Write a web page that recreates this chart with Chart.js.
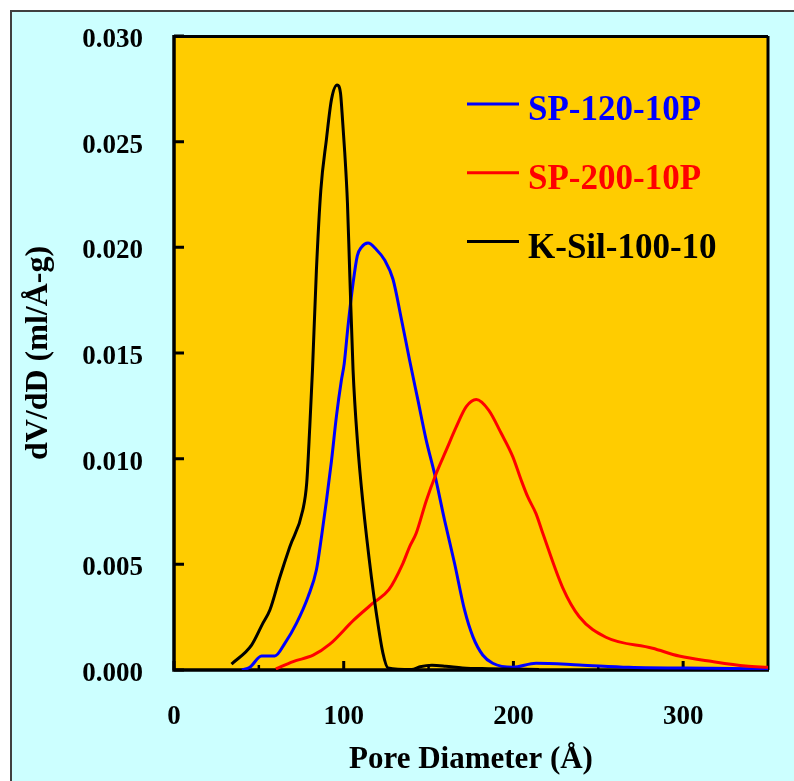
<!DOCTYPE html>
<html>
<head>
<meta charset="utf-8">
<script src="https://cdn.jsdelivr.net/npm/chart.js@4/dist/chart.umd.min.js"></script>
<style>
  html, body { margin: 0; padding: 0; background: #ffffff; }
  #wrap { width: 794px; height: 781px; position: relative; }
</style>
</head>
<body>
<div id="wrap"><canvas id="psd" width="794" height="781"></canvas></div>
<script>
// Pore size distributions, dV/dD (ml/Å-g) against pore diameter (Å)
const seriesNames = ['SP-120-10P', 'SP-200-10P', 'K-Sil-100-10'];
const seriesColors = ['#0000ff', '#ff0000', '#000000'];

const sp120Diameter = [40, 44.7, 51.6, 59.4, 65.3, 72.2, 79, 83.9, 86.9, 89.8, 92.8, 95.7, 98.6, 100.3,
  102.5, 105.5, 108, 110.4, 114.3, 119.2, 124.1, 129, 134, 138.8, 143.7, 148.6, 153.5, 159.4,
  165.3, 171.2, 176.1, 181.9, 187.8, 199.6, 213.3, 238.8, 268, 317, 350];
const sp120Values = [0, 0.00013, 0.00066, 0.00066, 0.00126, 0.00222, 0.00347, 0.00473, 0.0063, 0.0080,
  0.0099, 0.0120, 0.0137, 0.0145, 0.01625, 0.0183, 0.0196, 0.0200, 0.0202, 0.0199, 0.0194, 0.0185,
  0.0166, 0.01467, 0.01278, 0.01088, 0.0093, 0.0071, 0.00505, 0.00284, 0.00158, 0.00071, 0.00032,
  0.00013, 0.00032, 0.00024, 0.00013, 0.00008, 0.00005];

const sp200Diameter = [60, 70.2, 82, 91.8, 106, 117.2, 126.6, 134.9, 138.8, 142.7, 148.6, 154.5, 160.4,
  166.3, 172.2, 178.1, 185.4, 192.8, 199.6, 204.5, 208.4, 213.3, 217.3, 229, 238.8, 254.5, 282,
  297.6, 317.2, 336.9, 350];
const sp200Values = [0.00005, 0.0004, 0.0007, 0.00122, 0.00237, 0.00316, 0.0038, 0.00505, 0.00583,
  0.00647, 0.0080, 0.0093, 0.0104, 0.0115, 0.01246, 0.0128, 0.0123, 0.0112, 0.0101, 0.0090, 0.0082,
  0.0074, 0.00647, 0.0039, 0.00252, 0.00155, 0.00103, 0.00066, 0.0004, 0.00019, 0.00013];

const ksilDiameter = [33.9, 45.7, 52.4, 56.5, 62.4, 68.2, 75.9, 78.2, 80, 81.6, 83.9, 86.5, 89.8, 92.8,
  96.1, 98.1, 99, 100.6, 102.2, 103.5, 105.5, 108.2, 111.2, 116.3, 119.2, 123.1, 126.1, 140, 145,
  152, 160, 170, 185, 200, 215];
const ksilValues = [0.00028, 0.00118, 0.00222, 0.00284, 0.0044, 0.00582, 0.00757, 0.00885, 0.0115,
  0.0142, 0.0189, 0.0227, 0.0251, 0.0270, 0.02768, 0.0273, 0.0264, 0.0245, 0.0221, 0.0189, 0.0142,
  0.0107, 0.0080, 0.0044, 0.0027, 0.0008, 0.0001, 0.00002, 0.00015, 0.00022, 0.00018, 0.0001,
  0.00006, 0.00004, 0.00002];

const xMajorTicks = [0, 100, 200, 300];
const xMinorTicks = [50, 150, 250];
const yTicks = [0, 0.005, 0.010, 0.015, 0.020, 0.025, 0.030];

const serif = "'Liberation Serif', 'Times New Roman', serif";

function toPoints(xs, ys) {
  return xs.map((x, i) => ({ x: x, y: ys[i] }));
}

// Page background, outer frame and the gold plot area
const backdrop = {
  id: 'backdrop',
  beforeDraw(chart) {
    const { ctx, chartArea: a } = chart;
    ctx.save();
    ctx.fillStyle = '#ffffff';
    ctx.fillRect(0, 0, chart.width, chart.height);
    ctx.fillStyle = '#ccffff';
    ctx.fillRect(10, 10, chart.width, chart.height);
    ctx.strokeStyle = '#404040';
    ctx.lineWidth = 2;
    ctx.beginPath();
    ctx.moveTo(11, chart.height + 5);
    ctx.lineTo(11, 11);
    ctx.lineTo(chart.width + 5, 11);
    ctx.stroke();
    ctx.fillStyle = '#ffcc00';
    ctx.fillRect(a.left, a.top, a.right - a.left, a.bottom - a.top);
    ctx.restore();
  }
};

// Box around the plot and inward tick marks
const frame = {
  id: 'frame',
  beforeDatasetsDraw(chart) {
    const { ctx, chartArea: a, scales } = chart;
    ctx.save();
    ctx.strokeStyle = '#000000';
    ctx.lineCap = 'butt';
    // top and right edges
    ctx.lineWidth = 3;
    ctx.beginPath();
    ctx.moveTo(a.left, a.top + 0.5);
    ctx.lineTo(a.right, a.top + 0.5);
    ctx.moveTo(a.right, a.top);
    ctx.lineTo(a.right, a.bottom);
    ctx.stroke();
    // left and bottom axes
    ctx.lineWidth = 3.5;
    ctx.beginPath();
    ctx.moveTo(a.left, a.top - 1);
    ctx.lineTo(a.left, a.bottom);
    ctx.lineTo(a.right + 1, a.bottom);
    ctx.stroke();
    // ticks
    ctx.lineWidth = 3;
    ctx.beginPath();
    yTicks.forEach(v => {
      const y = scales.y.getPixelForValue(v);
      ctx.moveTo(a.left, y);
      ctx.lineTo(a.left + 10, y);
    });
    xMajorTicks.forEach(v => {
      const x = scales.x.getPixelForValue(v);
      ctx.moveTo(x, a.bottom);
      ctx.lineTo(x, a.bottom - 9);
    });
    ctx.stroke();
    ctx.lineWidth = 2.5;
    ctx.beginPath();
    xMinorTicks.forEach(v => {
      const x = scales.x.getPixelForValue(v);
      ctx.moveTo(x, a.bottom);
      ctx.lineTo(x, a.bottom - 5);
    });
    ctx.stroke();
    ctx.restore();
  }
};

// Key in the upper right of the plot, text coloured like its line
const key = {
  id: 'key',
  afterDatasetsDraw(chart) {
    const { ctx, chartArea: a } = chart;
    const x0 = a.right - 301, x1 = a.right - 249, tx = a.right - 240;
    ctx.save();
    ctx.font = 'bold 35px ' + serif;
    ctx.textAlign = 'left';
    ctx.textBaseline = 'alphabetic';
    chart.data.datasets.forEach((ds, i) => {
      const ly = a.top + 68 + i * 68.8;
      ctx.strokeStyle = ds.borderColor;
      ctx.lineWidth = 3;
      ctx.beginPath();
      ctx.moveTo(x0, ly);
      ctx.lineTo(x1, ly);
      ctx.stroke();
      ctx.fillStyle = ds.borderColor;
      ctx.fillText(ds.label, tx, ly + 16);
    });
    ctx.restore();
  }
};

const xs = [sp120Diameter, sp200Diameter, ksilDiameter];
const ys = [sp120Values, sp200Values, ksilValues];

new Chart(document.getElementById('psd'), {
  type: 'line',
  data: {
    datasets: seriesNames.map((name, i) => ({
      label: name,
      data: toPoints(xs[i], ys[i]),
      borderColor: seriesColors[i],
      backgroundColor: seriesColors[i],
      borderWidth: 3,
      pointRadius: 0,
      fill: false,
      cubicInterpolationMode: 'monotone',
      order: 2 - i
    }))
  },
  options: {
    responsive: false,
    animation: false,
    events: [],
    layout: { padding: { left: 0, top: 36, right: 26, bottom: 0 } },
    plugins: {
      legend: { display: false },
      tooltip: { enabled: false }
    },
    scales: {
      x: {
        type: 'linear',
        min: 0,
        max: 350,
        afterFit(s) { s.height = 111; s.paddingLeft = 0; s.paddingRight = 0; },
        afterBuildTicks(s) { s.ticks = xMajorTicks.map(v => ({ value: v })); },
        grid: { display: false, drawTicks: false },
        border: { display: false },
        ticks: {
          padding: 31,
          color: '#000000',
          font: { family: serif, size: 27, weight: 'bold' },
          maxRotation: 0
        },
        title: {
          display: true,
          text: 'Pore Diameter (Å)',
          color: '#000000',
          font: { family: serif, size: 31, weight: 'bold', lineHeight: 1 },
          padding: { top: 0, bottom: 6 }
        }
      },
      y: {
        type: 'linear',
        min: 0,
        max: 0.03,
        afterFit(s) { s.width = 174; s.paddingTop = 0; s.paddingBottom = 0; },
        afterBuildTicks(s) { s.ticks = yTicks.map(v => ({ value: v })); },
        grid: { display: false, drawTicks: false },
        border: { display: false },
        ticks: {
          padding: 31,
          labelOffset: 4,
          color: '#000000',
          font: { family: serif, size: 27, weight: 'bold' },
          callback: v => v.toFixed(3)
        },
        title: {
          display: true,
          text: 'dV/dD (ml/Å-g)',
          color: '#000000',
          font: { family: serif, size: 32, weight: 'bold', lineHeight: 1 },
          padding: { top: 23, bottom: 0 }
        }
      }
    }
  },
  plugins: [backdrop, frame, key]
});
</script>
</body>
</html>
